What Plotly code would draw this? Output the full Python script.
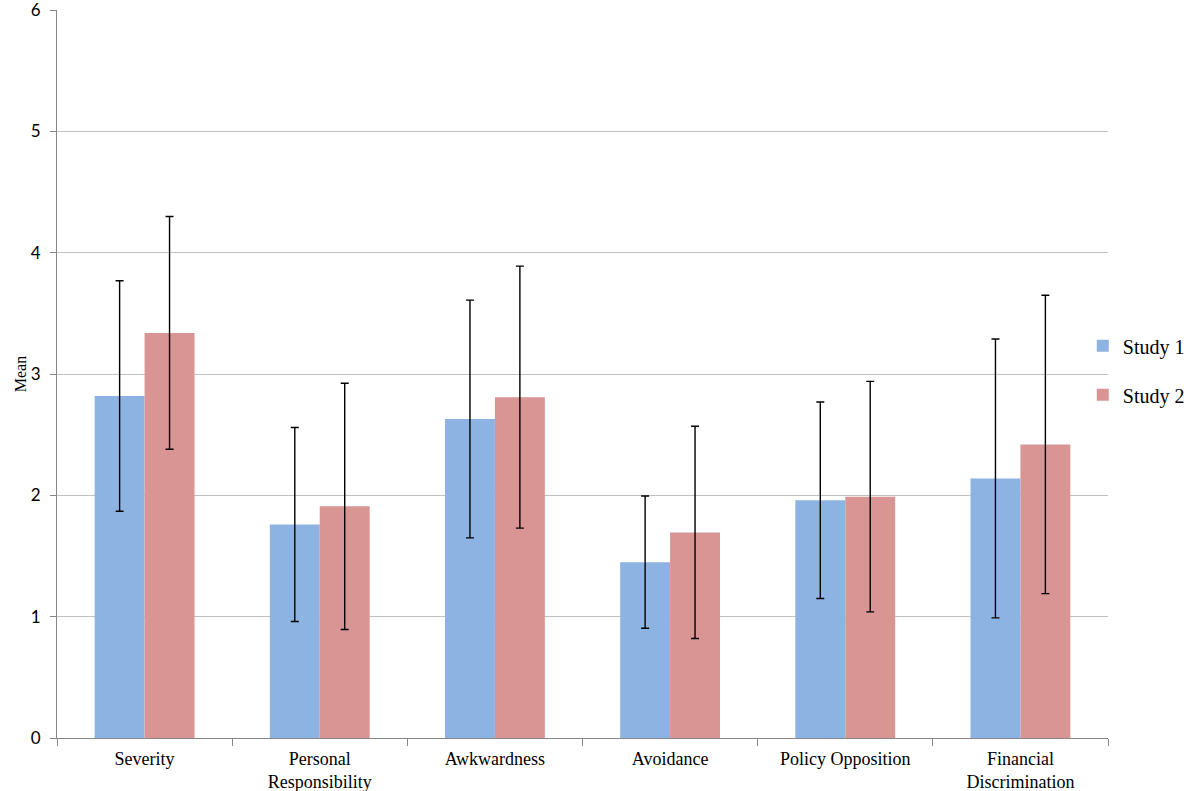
import plotly.graph_objects as go

categories = ["Severity", "Personal<br>Responsibility", "Awkwardness", "Avoidance",
              "Policy Opposition", "Financial<br>Discrimination"]
study1_mean = [2.82, 1.76, 2.63, 1.45, 1.96, 2.14]
study1_sd = [0.95, 0.80, 0.98, 0.545, 0.81, 1.15]
study2_mean = [3.34, 1.91, 2.81, 1.695, 1.99, 2.42]
study2_sd = [0.96, 1.015, 1.08, 0.875, 0.95, 1.23]
y_ticks = [0, 1, 2, 3, 4, 5, 6]

fig = go.Figure()
fig.add_trace(go.Bar(
    name="Study 1", x=categories, y=study1_mean, legendgroup="a",
    marker=dict(color="#8db3e2", line=dict(width=0)),
    error_y=dict(type="data", array=study1_sd, color="black", thickness=1.4, width=4),
))
fig.add_trace(go.Bar(
    name="Study 2", x=categories, y=study2_mean, legendgroup="b",
    marker=dict(color="#d99594", line=dict(width=0)),
    error_y=dict(type="data", array=study2_sd, color="black", thickness=1.4, width=4),
))

fig.update_layout(
    width=1200, height=791,
    margin=dict(l=57, r=92, t=10, b=53),
    paper_bgcolor="white", plot_bgcolor="white",
    barmode="group", bargap=0.43, bargroupgap=0,
    showlegend=True,
    legend=dict(x=0.976, xanchor="left", y=0.505, yanchor="middle",
                font=dict(family="Liberation Serif", size=20, color="black"),
                traceorder="grouped", tracegroupgap=20, itemwidth=30,
                bgcolor="rgba(0,0,0,0)"),
    font=dict(family="Liberation Serif", color="black"),
)
fig.update_xaxes(
    showline=True, linecolor="#868686", linewidth=1,
    ticks="outside", tickson="boundaries", ticklen=7, tickcolor="#868686",
    tickfont=dict(family="Liberation Serif", size=18, color="black"),
    ticklabelstandoff=4,
    showgrid=False, automargin=False,
)
fig.update_yaxes(
    range=[0, 6.002], tickvals=y_ticks,
    showline=True, linecolor="#868686", linewidth=1,
    ticks="outside", ticklen=6, tickcolor="#868686",
    tickfont=dict(family="Lato", size=17, color="black"),
    ticklabeloverflow="allow", ticklabelstandoff=6,
    showgrid=True, gridcolor="#c0c0c0", gridwidth=1,
    zeroline=False, automargin=False,
    title=dict(text="Mean", font=dict(family="Liberation Serif", size=16, color="black"), standoff=0),
)

# remove the browser's default 8px body margin so the figure fills the window
fig.write_html("out.html", config={"displayModeBar": False},
               post_script="document.body.style.margin='0';")
